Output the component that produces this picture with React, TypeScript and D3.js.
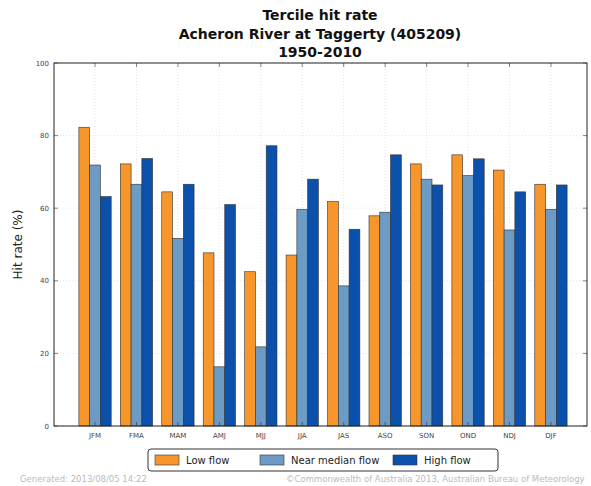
import React from "react";
import * as d3 from "d3";

const categories = ["JFM", "FMA", "MAM", "AMJ", "MJJ", "JJA", "JAS", "ASO", "SON", "OND", "NDJ", "DJF"];
const lowFlow = [82.3, 72.2, 64.5, 47.7, 42.5, 47.1, 61.8, 57.9, 72.2, 74.7, 70.5, 66.6];
const nearMedianFlow = [71.9, 66.6, 51.7, 16.3, 21.8, 59.7, 38.6, 58.9, 68.0, 69.0, 54.0, 59.7];
const highFlow = [63.2, 73.7, 66.6, 61.0, 77.2, 68.0, 54.2, 74.7, 66.4, 73.6, 64.5, 66.4];
const yTicks = [0, 20, 40, 60, 80, 100];
const seriesNames = ["Low flow", "Near median flow", "High flow"];
const seriesColors = ["#F7962B", "#6C9BC6", "#0B51AC"];

const W = 591;
const H = 486;
const left = 54;
const right = 587;
const top = 63;
const bottom = 426;

export default function App() {
  const x = d3.scaleLinear().domain([-0.99, 11.87]).range([left, right]);
  const y = d3.scaleLinear().domain([0, 100]).range([bottom, top]);
  const unit = x(1) - x(0);
  const bw = unit * 0.26;
  const series = [lowFlow, nearMedianFlow, highFlow];
  const font = "DejaVu Sans, sans-serif";

  return (
    <svg width={W} height={H} style={{ position: "absolute", left: 0, top: 0 }} fontFamily={font}>
      <rect x={0} y={0} width={W} height={H} fill="#fff" />
      {/* title */}
      <g fontWeight="bold" fontSize={14} textAnchor="middle" fill="#111">
        <text x={320} y={20}>Tercile hit rate</text>
        <text x={320} y={39}>Acheron River at Taggerty (405209)</text>
        <text x={320} y={57}>1950-2010</text>
      </g>
      {/* grid */}
      <g stroke="#ccc" strokeWidth={0.5} strokeDasharray="1,2">
        {yTicks.map((t) => (
          <line key={"gy" + t} x1={left} x2={right} y1={y(t)} y2={y(t)} />
        ))}
        {categories.map((c, i) => (
          <line key={"gx" + c} x1={x(i)} x2={x(i)} y1={top} y2={bottom} />
        ))}
      </g>
      {/* bars */}
      {series.map((vals, s) => (
        <g key={"s" + s}>
          {vals.map((v, i) => (
            <rect
              key={i}
              x={x(i) + (s - 1.5) * bw}
              y={y(v)}
              width={bw}
              height={y(0) - y(v)}
              fill={seriesColors[s]}
              stroke="#333"
              strokeWidth={0.6}
            />
          ))}
        </g>
      ))}
      {/* frame */}
      <rect x={left} y={top} width={right - left} height={bottom - top} fill="none" stroke="#222" strokeWidth={1} />
      {/* ticks */}
      <g stroke="#333" strokeWidth={0.6}>
        {yTicks.map((t) => (
          <g key={"ty" + t}>
            <line x1={left} x2={left + 4} y1={y(t)} y2={y(t)} />
            <line x1={right - 4} x2={right} y1={y(t)} y2={y(t)} />
          </g>
        ))}
        {categories.map((c, i) => (
          <g key={"tx" + c}>
            <line x1={x(i)} x2={x(i)} y1={bottom} y2={bottom - 4} />
            <line x1={x(i)} x2={x(i)} y1={top} y2={top + 4} />
          </g>
        ))}
      </g>
      <g fontSize={7} fill="#444" textAnchor="end">
        {yTicks.map((t) => (
          <text key={"ly" + t} x={left - 5} y={y(t) + 2.5}>{t}</text>
        ))}
      </g>
      <g fontSize={7} fill="#444" textAnchor="middle">
        {categories.map((c, i) => (
          <text key={"lx" + c} x={x(i)} y={bottom + 12}>{c}</text>
        ))}
      </g>
      <text
        transform={`translate(22,${(top + bottom) / 2}) rotate(-90)`}
        textAnchor="middle"
        fontSize={12}
        fill="#222"
      >
        Hit rate (%)
      </text>
      {/* legend */}
      <rect x={148} y={449} width={350} height={22} rx={3} fill="#fff" stroke="#333" strokeWidth={1} />
      {seriesNames.map((n, s) => {
        const lx = [155, 260, 393][s];
        return (
          <g key={"lg" + s}>
            <rect x={lx} y={455} width={24} height={10} fill={seriesColors[s]} stroke="#333" strokeWidth={0.6} />
            <text x={lx + 31} y={464} fontSize={10} fill="#222">{n}</text>
          </g>
        );
      })}
      {/* footer */}
      <text x={20} y={482} fontSize={8.5} fill="#bbb">Generated: 2013/08/05 14:22</text>
      <text x={286} y={482} fontSize={8.5} fill="#bbb">©Commonwealth of Australia 2013, Australian Bureau of Meteorology</text>
    </svg>
  );
}
